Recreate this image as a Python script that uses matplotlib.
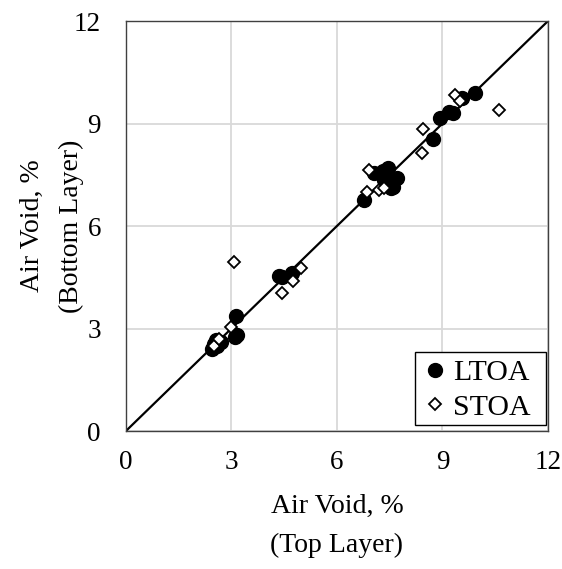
import matplotlib
matplotlib.use("Agg")
import matplotlib.pyplot as plt
from matplotlib.patches import Rectangle

plt.rcParams['font.family'] = ['Liberation Serif', 'DejaVu Serif']

ltoa_x = [2.45, 2.5, 2.6, 2.7, 2.55, 3.13, 3.16, 3.1, 4.35, 4.45, 4.72, 6.78,
          7.05, 7.45, 7.5, 7.6, 7.7, 7.35, 7.55, 7.3, 8.73, 8.93, 9.2, 9.3, 9.55, 9.92]
ltoa_y = [2.4, 2.55, 2.5, 2.6, 2.65, 3.38, 2.8, 2.75, 4.55, 4.5, 4.62, 6.76,
          7.55, 7.7, 7.4, 7.15, 7.4, 7.35, 7.1, 7.6, 8.55, 9.15, 9.35, 9.3, 9.75, 9.89]
stoa_x = [2.5, 2.65, 3.0, 3.07, 4.44, 4.75, 4.98, 6.85, 6.9, 7.2, 7.35,
          8.44, 8.42, 9.35, 9.5, 10.6]
stoa_y = [2.5, 2.7, 3.05, 4.95, 4.05, 4.4, 4.76, 7.0, 7.65, 7.05, 7.1,
          8.85, 8.15, 9.85, 9.65, 9.4]
ticks = [0, 3, 6, 9, 12]

W, H = 562, 569
fig = plt.figure(figsize=(W / 100, H / 100), dpi=100)
ax = fig.add_axes([0.224, 0.2425, 0.751, 0.7205])

ax.plot([0, 12], [0, 12], color='black', lw=1.6, zorder=2)
ax.plot(ltoa_x, ltoa_y, 'o', color='black', ms=10, label='LTOA', zorder=3)
ax.plot(stoa_x, stoa_y, 'D', mfc='white', mec='black', ms=6.5, mew=1.3,
        label='STOA', zorder=4)

ax.set_xlim(0, 12)
ax.set_ylim(0, 12)
ax.set_xticks(ticks)
ax.set_yticks(ticks)
ax.tick_params(length=0, labelsize=19.5)
ax.tick_params(axis='x', pad=14)
ax.tick_params(axis='y', pad=18)
ax.grid(True, color='#d9d9d9', lw=1.3)
ax.set_axisbelow(True)
for s in ax.spines.values():
    s.set_color('#404040')
    s.set_linewidth(1.0)

fig.text(337 / W, 1 - 526 / H, 'Air Void, %\n(Top Layer)', fontsize=20,
         ha='center', va='center', multialignment='center', linespacing=1.7)
fig.text(52 / W, 1 - 226 / H, 'Air Void, %\n(Bottom Layer)', fontsize=20,
         rotation=90, ha='center', va='center', multialignment='center',
         linespacing=1.7)

# legend frame (white box with black border)
ax.add_patch(Rectangle((415 / W, 1 - 425 / H), 131 / W, 73 / H,
                       transform=fig.transFigure, facecolor='white',
                       edgecolor='black', lw=1.0, zorder=5, clip_on=False))

leg = ax.legend(loc='lower right', fontsize=21.5, frameon=False,
                handletextpad=0.2, handlelength=0.8,
                borderpad=0.15, labelspacing=0.25, borderaxespad=0,
                bbox_to_anchor=(535 / W, 1 - 425 / H),
                bbox_transform=fig.transFigure)
leg.set_zorder(6)

fig.savefig('out.png', dpi=100)
